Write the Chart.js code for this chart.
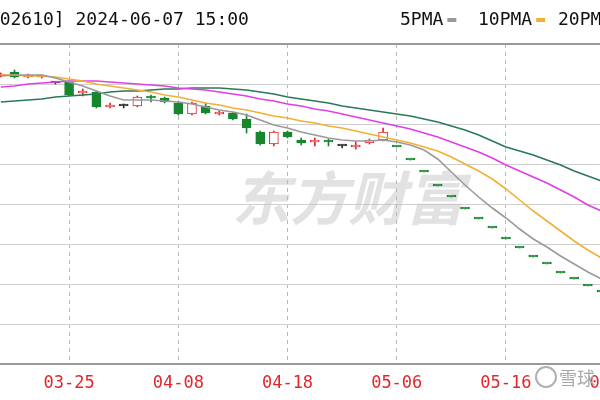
<!DOCTYPE html>
<html>
<head>
<meta charset="utf-8">
<script src="https://cdn.jsdelivr.net/npm/chart.js@4.4.1/dist/chart.umd.min.js"></script>
<style>
html, body { margin: 0; padding: 0; width: 600px; height: 400px; overflow: hidden; background: #fff; }
#wrap { position: absolute; left: -6px; top: 0; width: 628px; height: 400px; }
</style>
</head>
<body>
<div id="wrap"><canvas id="canvas"></canvas></div>
<script>
// canvas is shifted 6px left so the first candle is cut like in the screenshot
const SHIFT = 6;

let dates = ['03-18','03-19','03-20','03-21','03-22','03-25','03-26','03-27','03-28','03-29',
  '04-01','04-02','04-03','04-08','04-09','04-10','04-11','04-12','04-15','04-16',
  '04-17','04-18','04-19','04-22','04-23','04-24','04-25','04-26','04-29','05-06',
  '05-07','05-08','05-09','05-10','05-13','05-14','05-15','05-16','05-17','05-20',
  '05-21','05-22','05-23','05-24','05-27','05-28'];
let tickDates = ['03-25','04-08','04-18','05-06','05-16','05-28'];

let open = [3.38,3.42,3.37,3.37,3.31,3.32,3.21,3.22,3.07,3.08,3.08,3.17,3.16,3.11,3.00,3.08,3.00,3.01,2.95,2.82,
  2.70,2.82,2.74,2.72,2.73,2.68,2.67,2.71,2.74,2.67,2.54,2.42,2.28,2.17,2.05,1.95,1.86,1.75,1.66,1.57,
  1.50,1.41,1.35,1.28,1.22];
let high = [3.41,3.44,3.40,3.39,3.32,3.33,3.25,3.23,3.11,3.10,3.18,3.19,3.17,3.12,3.12,3.11,3.03,3.02,3.00,2.83,
  2.83,2.83,2.76,2.76,2.75,2.69,2.72,2.75,2.86,2.67,2.54,2.42,2.28,2.17,2.05,1.95,1.86,1.75,1.66,1.57,
  1.50,1.41,1.35,1.28,1.22];
let low = [3.37,3.36,3.36,3.36,3.30,3.18,3.18,3.06,3.06,3.06,3.07,3.12,3.11,2.99,2.99,3.00,2.99,2.94,2.81,2.69,
  2.68,2.76,2.69,2.68,2.68,2.66,2.65,2.70,2.73,2.67,2.54,2.42,2.28,2.17,2.05,1.95,1.86,1.75,1.66,1.57,
  1.50,1.41,1.35,1.28,1.22];
let close = [3.39,3.37,3.38,3.38,3.31,3.19,3.22,3.07,3.08,3.08,3.17,3.16,3.12,3.00,3.11,3.01,3.01,2.95,2.86,2.70,
  2.82,2.77,2.71,2.73,2.72,2.68,2.68,2.74,2.82,2.67,2.54,2.42,2.28,2.17,2.05,1.95,1.86,1.75,1.66,1.57,
  1.50,1.41,1.35,1.28,1.22];

let ma5 = [3.38,3.39,3.39,3.39,3.36,3.32,3.28,3.23,3.18,3.14,3.14,3.14,3.13,3.12,3.10,3.07,3.04,3.02,2.99,2.94,
  2.89,2.86,2.82,2.79,2.76,2.74,2.73,2.73,2.74,2.72,2.69,2.64,2.55,2.42,2.29,2.17,2.06,1.96,1.85,1.75,
  1.67,1.58,1.50,1.42,1.35];
let ma10 = [3.39,3.39,3.38,3.38,3.37,3.35,3.33,3.30,3.28,3.26,3.24,3.22,3.19,3.17,3.14,3.11,3.09,3.06,3.04,3.01,
  2.98,2.96,2.93,2.91,2.88,2.86,2.83,2.80,2.77,2.74,2.71,2.67,2.63,2.57,2.50,2.43,2.35,2.25,2.14,2.03,
  1.93,1.83,1.73,1.64,1.56];
let ma20 = [3.27,3.28,3.30,3.31,3.32,3.33,3.33,3.33,3.32,3.31,3.30,3.29,3.28,3.26,3.25,3.24,3.22,3.20,3.18,3.15,
  3.13,3.10,3.08,3.05,3.03,3.00,2.97,2.94,2.91,2.88,2.85,2.81,2.77,2.72,2.67,2.62,2.56,2.49,2.43,2.37,
  2.31,2.24,2.17,2.09,2.03];
let ma30 = [3.12,3.13,3.14,3.15,3.17,3.18,3.19,3.20,3.22,3.23,3.23,3.24,3.25,3.25,3.26,3.26,3.26,3.25,3.24,3.22,
  3.20,3.17,3.15,3.13,3.11,3.08,3.06,3.04,3.02,3.00,2.98,2.95,2.92,2.88,2.84,2.79,2.73,2.67,2.63,2.59,
  2.54,2.49,2.43,2.38,2.33];

const RED = '#e3262b';
const GREEN = '#17862c';
const DOJI = '#333333';

let candleColor = open.map((o, i) => {
  if (close[i] > o) return RED;
  if (close[i] < o) return GREEN;
  return high[i] === low[i] ? GREEN : DOJI;
});
let bodyFill = candleColor.map(c => c === RED ? '#ffffff' : c);

let bodies = open.map((o, i) => [o, close[i]]);
let wicks = low.map((l, i) => [l, high[i]]);

const decor = {
  id: 'decor',
  beforeDatasetsDraw(chart) {
    let c = chart.ctx;
    c.save();
    c.fillStyle = 'rgba(190,190,190,0.45)';
    c.font = 'italic bold 58px "Noto Sans CJK SC"';
    c.textBaseline = 'middle';
    c.fillText('东方财富', 232 + SHIFT, 198);
    c.restore();
  },
  afterDraw(chart) {
    let c = chart.ctx;
    c.save();
    c.textBaseline = 'middle';
    c.fillStyle = '#111';
    c.font = '18px "DejaVu Sans Mono"';
    c.fillText('[002610] 2024-06-07 15:00', -22 + SHIFT, 20);

    let items = [['5PMA', '#9a9a9a', 400], ['10PMA', '#f2b035', 478], ['20PMA', '#e23ee6', 558]];
    items.forEach(it => {
      c.fillStyle = '#111';
      c.fillText(it[0], it[2] + SHIFT, 20);
      let w = c.measureText(it[0]).width;
      c.fillStyle = it[1];
      c.fillRect(it[2] + w + 4 + SHIFT, 18, 9, 4);
    });

    // xueqiu mark in the corner
    c.strokeStyle = '#b0b0b0';
    c.lineWidth = 2;
    c.beginPath();
    c.arc(546 + SHIFT, 377, 10, 0, Math.PI * 2);
    c.stroke();
    c.fillStyle = '#a8a8a8';
    c.font = '18px "Noto Sans CJK SC"';
    c.fillText('雪球', 559 + SHIFT, 378);
    c.restore();
  }
};

let ctx = document.getElementById('canvas').getContext('2d');

let myChart = new Chart(ctx, {
  type: 'bar',
  data: {
    labels: dates,
    datasets: [
      { type: 'line', label: '5PMA', data: ma5, borderColor: '#9a9a9a', borderWidth: 1.6, pointRadius: 0, order: 0 },
      { type: 'line', label: '10PMA', data: ma10, borderColor: '#f2b035', borderWidth: 1.6, pointRadius: 0, order: 0 },
      { type: 'line', label: '20PMA', data: ma20, borderColor: '#e23ee6', borderWidth: 1.6, pointRadius: 0, order: 0 },
      { type: 'line', label: '30PMA', data: ma30, borderColor: '#2a7a55', borderWidth: 1.6, pointRadius: 0, order: 0 },
      {
        label: 'body', data: bodies, grouped: false, barThickness: 9, minBarLength: 2,
        backgroundColor: bodyFill, borderColor: candleColor, borderWidth: 1, borderSkipped: false, order: 1
      },
      {
        label: 'wick', data: wicks, grouped: false, barThickness: 1,
        backgroundColor: candleColor, borderWidth: 0, order: 2
      }
    ]
  },
  options: {
    responsive: true,
    maintainAspectRatio: false,
    animation: false,
    layout: { padding: { top: 44, left: 0, right: 0, bottom: 0 } },
    plugins: { legend: { display: false }, tooltip: { enabled: false } },
    scales: {
      x: {
        offset: true,
        grid: {
          offset: false,
          drawTicks: false,
          color: c => tickDates.includes(dates[c.index]) ? '#b8b8b8' : 'rgba(0,0,0,0)'
        },
        border: { display: true, color: '#9a9a9a', width: 2, dash: [4, 4] },
        ticks: {
          autoSkip: false, maxRotation: 0, minRotation: 0, padding: 9,
          color: RED,
          font: { family: 'DejaVu Sans Mono', size: 17 },
          callback: function (v, i) { return tickDates.includes(dates[i]) ? dates[i] : ''; }
        },
        afterFit: s => { s.height = 36; s.paddingLeft = 0; s.paddingRight = 0; }
      },
      y: {
        min: 0.5, max: 3.7,
        ticks: { display: false, stepSize: 0.4 },
        grid: {
          drawTicks: false,
          color: c => c.index === 8 ? '#9a9a9a' : '#cfcfcf',
          lineWidth: c => c.index === 8 ? 2 : 1
        },
        border: { display: false },
        afterFit: s => { s.width = 0; s.paddingTop = 0; s.paddingBottom = 0; }
      }
    }
  },
  plugins: [decor]
});
</script>
</body>
</html>
